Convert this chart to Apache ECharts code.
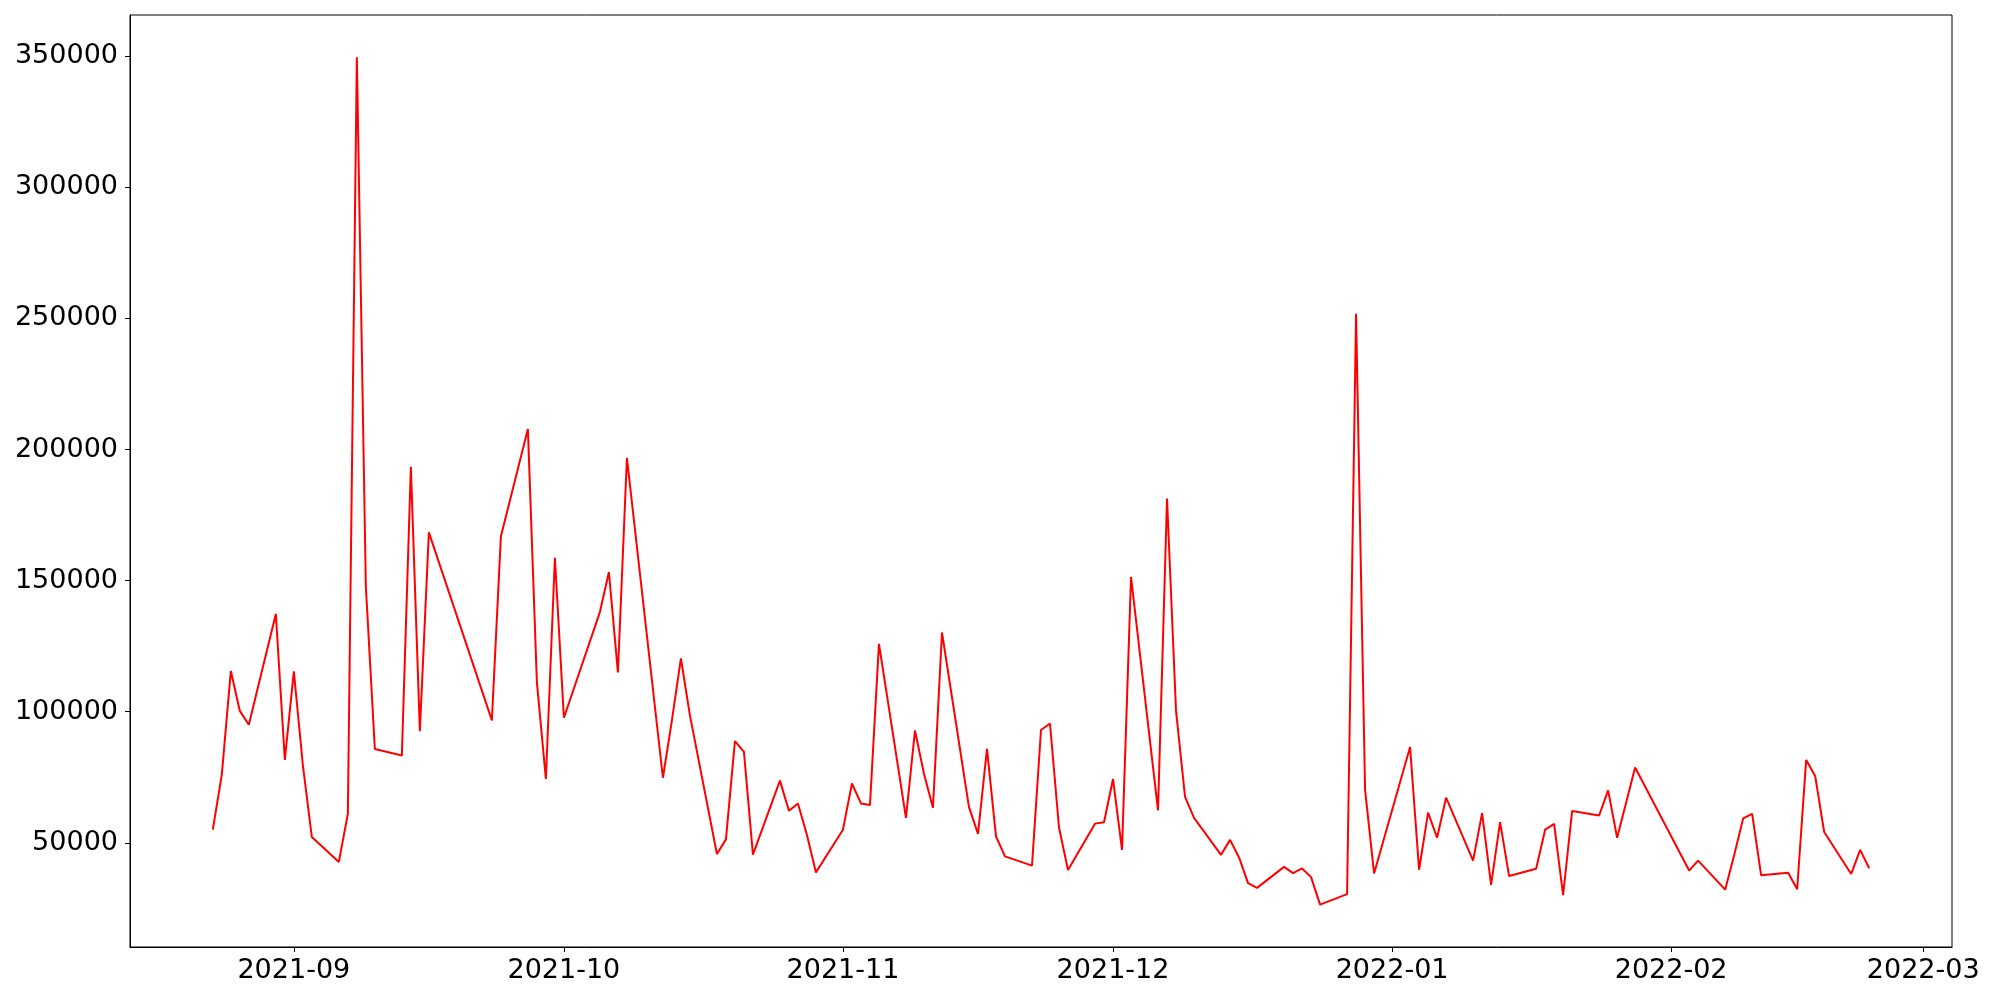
<!DOCTYPE html>
<html>
<head>
<meta charset="utf-8">
<script src="https://cdn.jsdelivr.net/npm/echarts@6/dist/echarts.min.js"></script>
<style>
html,body{margin:0;padding:0;background:#fff;}
#chart{width:2000px;height:1000px;}
</style>
</head>
<body>
<div id="chart"></div>
<script>
// ---- data ----
const dates = [
 '2021-08-23','2021-08-24','2021-08-25','2021-08-26','2021-08-27','2021-08-30','2021-08-31',
 '2021-09-01','2021-09-02','2021-09-03','2021-09-06','2021-09-07','2021-09-08','2021-09-09','2021-09-10',
 '2021-09-13','2021-09-14','2021-09-15','2021-09-16','2021-09-23','2021-09-24','2021-09-27','2021-09-28',
 '2021-09-29','2021-09-30','2021-10-01','2021-10-05','2021-10-06','2021-10-07','2021-10-08',
 '2021-10-12','2021-10-13','2021-10-14','2021-10-15','2021-10-18','2021-10-19','2021-10-20','2021-10-21','2021-10-22',
 '2021-10-25','2021-10-26','2021-10-27','2021-10-28','2021-10-29',
 '2021-11-01','2021-11-02','2021-11-03','2021-11-04','2021-11-05','2021-11-08','2021-11-09','2021-11-10','2021-11-11','2021-11-12',
 '2021-11-15','2021-11-16','2021-11-17','2021-11-18','2021-11-19','2021-11-22','2021-11-23','2021-11-24','2021-11-25','2021-11-26',
 '2021-11-29','2021-11-30','2021-12-01','2021-12-02','2021-12-03','2021-12-06','2021-12-07','2021-12-08','2021-12-09','2021-12-10',
 '2021-12-13','2021-12-14','2021-12-15','2021-12-16','2021-12-17','2021-12-20','2021-12-21','2021-12-22','2021-12-23','2021-12-24',
 '2021-12-27','2021-12-28','2021-12-29','2021-12-30',
 '2022-01-03','2022-01-04','2022-01-05','2022-01-06','2022-01-07','2022-01-10','2022-01-11','2022-01-12','2022-01-13','2022-01-14',
 '2022-01-17','2022-01-18','2022-01-19','2022-01-20','2022-01-21','2022-01-24','2022-01-25','2022-01-26','2022-01-28',
 '2022-02-03','2022-02-04','2022-02-07','2022-02-08','2022-02-09','2022-02-10','2022-02-11',
 '2022-02-14','2022-02-15','2022-02-16','2022-02-17','2022-02-18','2022-02-21','2022-02-22','2022-02-23'
];
const values = [
 55000, 76000, 115500, 100300, 95000, 137300, 81600,
 115400, 79700, 52200, 42700, 61000, 349600, 147700, 85750,
 83300, 193400, 92600, 168400, 96700, 166800, 207800, 111300,
 74300, 158700, 97700, 138000, 153300, 115000, 196800,
 74800, 96700, 120300, 98600, 45700, 51300, 88800, 84700, 45500,
 73700, 62200, 65000, 53000, 38700,
 55000, 72600, 65000, 64400, 125900, 59500, 92800, 76300, 63400, 130200,
 63600, 53400, 85800, 52400, 44800, 41300, 93000, 95500, 55800, 39600,
 57300, 57800, 74300, 47300, 151400, 62400, 181300, 100300, 67500, 59500,
 45400, 51100, 44400, 34600, 32800, 40800, 38400, 40200, 36900, 26400,
 30400, 251800, 70200, 38300,
 86500, 39700, 61500, 51900, 67200, 43200, 61300, 33900, 57900, 37300,
 40100, 55000, 57200, 30000, 62100, 60400, 70000, 51900, 78700,
 39400, 43200, 32100, 45200, 59300, 61000, 37600,
 38600, 32300, 81600, 75500, 54100, 38100, 47300, 40300
];
const xTickLabels = ['2021-09','2021-10','2021-11','2021-12','2022-01','2022-02','2022-03'];
const yTickValues = [50000, 100000, 150000, 200000, 250000, 300000, 350000];

// ---- chart ----
function parseDay(s){ const p = s.split('-').map(Number); return Date.UTC(p[0], p[1]-1, p[2] || 1); }
const xTimes = xTickLabels.map(parseDay);
const seriesData = dates.map((d, i) => [parseDay(d), values[i]]);
const tFirst = parseDay(dates[0]), tLast = parseDay(dates[dates.length-1]);
const tPad = (tLast - tFirst) * 0.05;
const vMin = Math.min(...values), vMax = Math.max(...values);
const vPad = (vMax - vMin) * 0.05;

const chart = echarts.init(document.getElementById('chart'), null, {renderer:'canvas'});
chart.setOption({
  animation: false,
  backgroundColor: '#fff',
  grid: { left: 130, right: 48, top: 15, bottom: 53, show: true, borderColor: '#000', borderWidth: 1, containLabel: false },
  xAxis: {
    type: 'value',
    min: tFirst - tPad, max: tLast + tPad,
    splitLine: { show: false },
    axisLine: { show: true, onZero: false, lineStyle: { color: '#000', width: 1 } },
    axisTick: { show: true, length: 5, lineStyle: { color: '#000' }, customValues: xTimes },
    axisLabel: {
      customValues: xTimes, margin: 10, color: '#000', fontSize: 27, fontFamily: 'DejaVu Sans',
      formatter: function(v){ const i = xTimes.indexOf(v); return i >= 0 ? xTickLabels[i] : ''; }
    }
  },
  yAxis: {
    type: 'value',
    min: vMin - vPad, max: vMax + vPad,
    splitLine: { show: false },
    axisLine: { show: true, onZero: false, lineStyle: { color: '#000', width: 1 } },
    axisTick: { show: true, length: 5, lineStyle: { color: '#000' }, customValues: yTickValues },
    axisLabel: { customValues: yTickValues, margin: 12, color: '#000', fontSize: 27, fontFamily: 'DejaVu Sans',
      formatter: v => String(v) }
  },
  series: [{
    type: 'line', data: seriesData, showSymbol: false, symbol: 'none',
    lineStyle: { color: '#ff0000', width: 2 }, itemStyle: { color: '#ff0000' }
  }]
});
</script>
</body>
</html>
